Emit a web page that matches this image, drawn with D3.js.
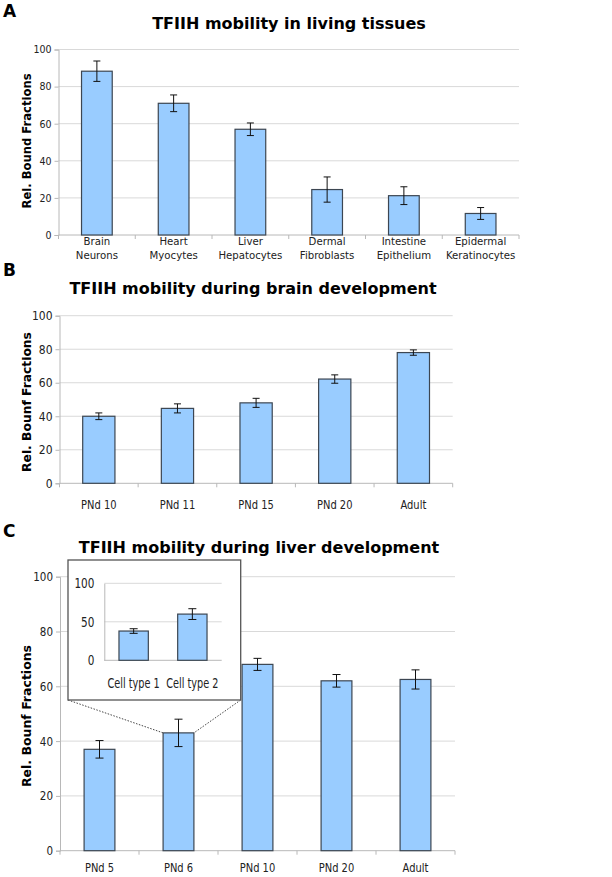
<!DOCTYPE html>
<html><head><meta charset="utf-8">
<script src="https://cdn.jsdelivr.net/npm/d3@7"></script>
<style>body{margin:0;background:#fff}svg{display:block}</style>
</head><body>
<svg id="chart" width="612" height="877"></svg>
<script>
// ---- Data ----
const tissueCategories = [["Brain","Neurons"],["Heart","Myocytes"],["Liver","Hepatocytes"],["Dermal","Fibroblasts"],["Intestine","Epithelium"],["Epidermal","Keratinocytes"]];
const tissueValues = [88.3, 71, 57, 24.5, 21.2, 11.6];
const tissueErrors = [5.5, 4.5, 3.4, 6.8, 4.8, 3.2];

const brainCategories = ["PNd 10","PNd 11","PNd 15","PNd 20","Adult"];
const brainValues = [40, 44.7, 48, 62.2, 78];
const brainErrors = [2, 2.7, 2.7, 2.5, 1.6];

const liverCategories = ["PNd 5","PNd 6","PNd 10","PNd 20","Adult"];
const liverValues = [37, 43, 68, 62, 62.5];
const liverErrors = [3.2, 5, 2.2, 2.3, 3.5];

const insetCategories = ["Cell type 1","Cell type 2"];
const insetValues = [38, 60];
const insetErrors = [3, 7];

const yTicksMain = [0, 20, 40, 60, 80, 100];
const yTicksInset = [0, 50, 100];

const titles = ["TFIIH mobility in living tissues","TFIIH mobility during brain development","TFIIH mobility during liver development"];
const yLabels = ["Rel. Bound Fractions","Rel. Bounf Fractions","Rel. Bounf Fractions"];
const panelLetters = ["A","B","C"];

// ---- Drawing ----
const svg = d3.select("#chart");
const BAR_FILL = "#99ccff", BAR_STROKE = "#3c4652", GRID = "#d9d9d9", AXIS = "#b8b8b8", TXT = "#222";

function drawPanel(o) {
  const g = svg.append("g");
  const sx = o.textScale || 1;
  const x = d3.scaleBand().domain(d3.range(o.values.length)).range([o.x0, o.x1]).paddingInner(1 - o.barFrac).paddingOuter((1 - o.barFrac) / 2);
  const y = d3.scaleLinear().domain([0, o.ymax]).range([o.y0, o.y1]);
  const step = x.step();
  // grid
  g.selectAll("line.grid").data(o.ticks.filter(t => t > 0)).join("line")
    .attr("x1", o.x0).attr("x2", o.x1).attr("y1", d => y(d)).attr("y2", d => y(d))
    .attr("stroke", GRID).attr("stroke-width", 1);
  // y axis
  const yAxis = d3.axisLeft(y).tickValues(o.ticks).tickSize(o.tickLen).tickPadding(o.tickPad);
  const ya = g.append("g").attr("transform", `translate(${o.x0},0)`).call(yAxis);
  ya.select(".domain").attr("stroke", AXIS);
  ya.selectAll(".tick line").attr("stroke", AXIS);
  ya.selectAll(".tick text").attr("font-family", o.tickFont).attr("font-size", o.tickSize).attr("fill", TXT)
    .attr("x", -(o.tickLen + o.tickPad) / sx).attr("transform", `scale(${sx},1)`);
  // x axis line and ticks at band boundaries
  g.append("line").attr("x1", o.x0).attr("x2", o.x1).attr("y1", y(0)).attr("y2", y(0)).attr("stroke", AXIS);
  if (o.xTicks) {
    g.selectAll("line.xt").data(d3.range(o.values.length + 1)).join("line")
      .attr("x1", i => o.x0 + i * step).attr("x2", i => o.x0 + i * step)
      .attr("y1", y(0)).attr("y2", y(0) + 4).attr("stroke", AXIS);
  }
  // bars
  g.selectAll("rect.bar").data(o.values).join("rect")
    .attr("x", (d, i) => x(i)).attr("width", x.bandwidth())
    .attr("y", d => y(d)).attr("height", d => y(0) - y(d))
    .attr("fill", BAR_FILL).attr("stroke", BAR_STROKE).attr("stroke-width", 1.2);
  // error bars
  const cap = o.cap;
  o.values.forEach((v, i) => {
    const cx = x(i) + x.bandwidth() / 2, e = o.errors[i];
    g.append("line").attr("x1", cx).attr("x2", cx).attr("y1", y(v + e)).attr("y2", y(v - e)).attr("stroke", "#111").attr("stroke-width", 1);
    [v + e, v - e].forEach(t => g.append("line").attr("x1", cx - cap).attr("x2", cx + cap).attr("y1", y(t)).attr("y2", y(t)).attr("stroke", "#111").attr("stroke-width", 1));
  });
  // category labels
  o.categories.forEach((c, i) => {
    const lines = Array.isArray(c) ? c : [c];
    const cx = (x(i) + x.bandwidth() / 2) / sx;
    const t = g.append("text").attr("x", cx).attr("y", o.catY).attr("transform", `scale(${sx},1)`)
      .attr("text-anchor", "middle").attr("font-family", o.catFont).attr("font-size", o.catSize).attr("fill", TXT);
    lines.forEach((l, k) => t.append("tspan").attr("x", cx).attr("dy", k === 0 ? 0 : o.catLine).text(l));
  });
  return {x, y, g};
}

function panelText(letter, lx, ly, title, tx, ty, tsize, ylab, yx, yy, ysize) {
  svg.append("text").attr("x", lx).attr("y", ly).attr("font-family", "DejaVu Sans").attr("font-weight", "bold").attr("font-size", 17).attr("fill", "#000").text(letter);
  svg.append("text").attr("x", tx).attr("y", ty).attr("text-anchor", "middle").attr("font-family", "DejaVu Sans").attr("font-weight", "bold").attr("font-size", tsize).attr("fill", "#000").text(title);
  svg.append("text").attr("transform", `translate(${yx},${yy}) rotate(-90)`).attr("text-anchor", "middle").attr("font-family", "DejaVu Sans").attr("font-weight", "bold").attr("font-size", ysize).attr("fill", "#000").text(ylab);
}

// Panel A
panelText(panelLetters[0], 3, 17, titles[0], 289, 29, 16, yLabels[0], 31, 141, 11.6);
drawPanel({values: tissueValues, errors: tissueErrors, categories: tissueCategories,
  x0: 58.5, x1: 519, y0: 235, y1: 49.5, ymax: 100, ticks: yTicksMain, barFrac: 0.4,
  tickLen: 4, tickPad: 3, tickFont: "DejaVu Sans Condensed", tickSize: 10.5,
  catY: 244.5, catLine: 14, catFont: "DejaVu Sans Condensed", catSize: 11.3, cap: 3.5, xTicks: true});

// Panel B
panelText(panelLetters[1], 3, 276, titles[1], 253, 294, 16, yLabels[1], 31, 402, 12.3);
drawPanel({values: brainValues, errors: brainErrors, categories: brainCategories,
  x0: 59.5, x1: 452.7, y0: 483.3, y1: 315.7, ymax: 100, ticks: yTicksMain, barFrac: 0.41,
  tickLen: 4, tickPad: 3, tickFont: "DejaVu Sans Condensed", tickSize: 13, textScale: 0.92,
  catY: 509.5, catLine: 14, catFont: "DejaVu Sans Condensed", catSize: 12, cap: 3.5, xTicks: true});

// Panel C
panelText(panelLetters[2], 3, 537, titles[2], 259, 553, 16, yLabels[2], 31, 716, 12.5);
const pc = drawPanel({values: liverValues, errors: liverErrors, categories: liverCategories,
  x0: 60, x1: 455, y0: 850.7, y1: 576.7, ymax: 100, ticks: yTicksMain, barFrac: 0.39,
  tickLen: 4, tickPad: 3, tickFont: "DejaVu Sans Condensed", tickSize: 12.5, textScale: 0.92,
  catY: 872.5, catLine: 14, catFont: "DejaVu Sans Condensed", catSize: 12, cap: 4, xTicks: true});

// Inset box and zoom lines
const box = {x: 68, y: 560, w: 172.7, h: 140};
const zi = 1; // PNd 6
const bl = pc.x(zi), br = pc.x(zi) + pc.x.bandwidth(), bt = pc.y(liverValues[zi]);
svg.append("line").attr("x1", box.x).attr("y1", box.y + box.h).attr("x2", bl).attr("y2", bt).attr("stroke", "#444").attr("stroke-dasharray", "1.5,1.5");
svg.append("line").attr("x1", box.x + box.w).attr("y1", box.y + box.h).attr("x2", br).attr("y2", bt).attr("stroke", "#444").attr("stroke-dasharray", "1.5,1.5");
svg.append("rect").attr("x", box.x).attr("y", box.y).attr("width", box.w).attr("height", box.h).attr("fill", "#fff").attr("stroke", "#555").attr("stroke-width", 1.3);
drawPanel({values: insetValues, errors: insetErrors, categories: insetCategories,
  x0: 104.3, x1: 221.7, y0: 660.3, y1: 583.3, ymax: 100, ticks: yTicksInset, barFrac: 0.5,
  tickLen: 0, tickPad: 10, tickFont: "DejaVu Sans Condensed", tickSize: 14.5, textScale: 0.8,
  catY: 688, catLine: 14, catFont: "DejaVu Sans Condensed", catSize: 13.5, cap: 4, xTicks: false});
</script>
</body></html>
